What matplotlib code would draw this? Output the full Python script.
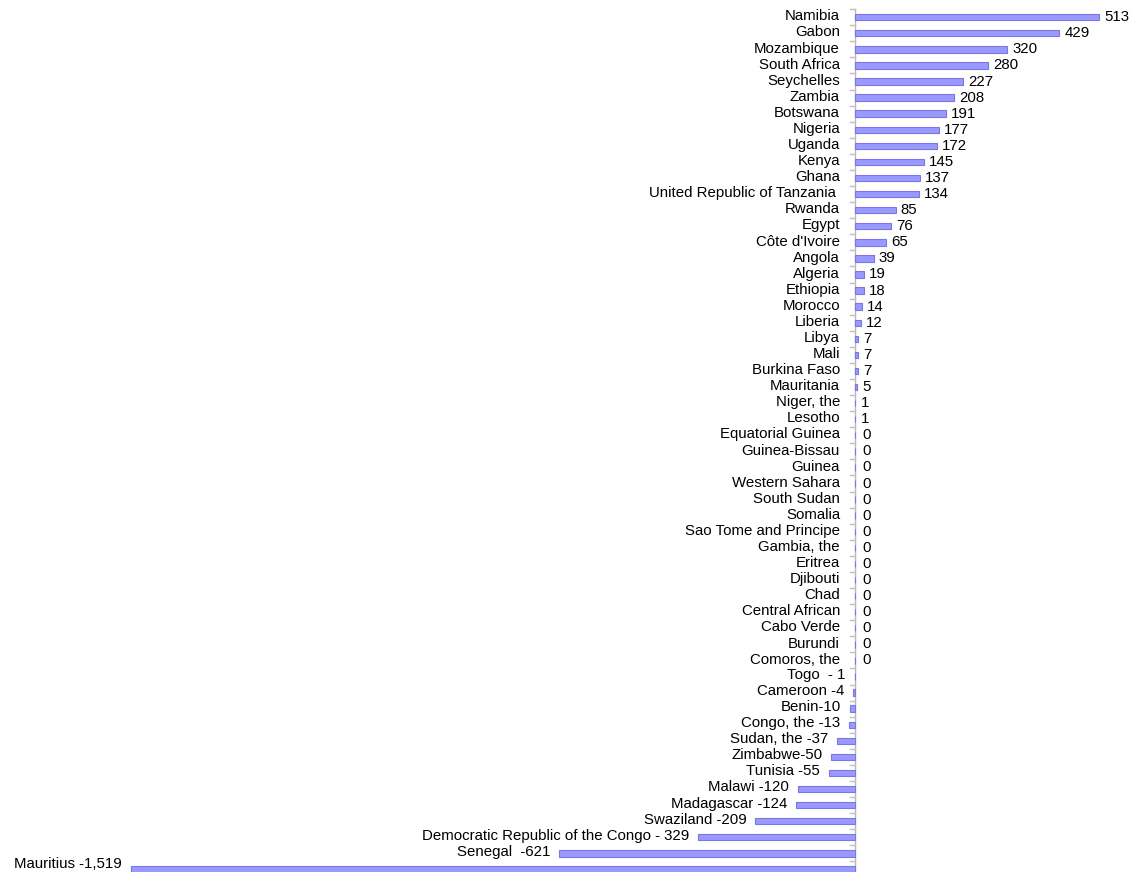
import matplotlib
matplotlib.use("Agg")
import matplotlib.pyplot as plt

plt.rcParams['font.family'] = ['Liberation Sans', 'DejaVu Sans']

countries = ["Namibia", "Gabon", "Mozambique", "South Africa", "Seychelles", "Zambia",
             "Botswana", "Nigeria", "Uganda", "Kenya", "Ghana", "United Republic of Tanzania ",
             "Rwanda", "Egypt", "Côte d'Ivoire", "Angola", "Algeria", "Ethiopia", "Morocco",
             "Liberia", "Libya", "Mali", "Burkina Faso", "Mauritania", "Niger, the", "Lesotho",
             "Equatorial Guinea", "Guinea-Bissau", "Guinea", "Western Sahara", "South Sudan",
             "Somalia", "Sao Tome and Principe", "Gambia, the", "Eritrea", "Djibouti", "Chad",
             "Central African", "Cabo Verde", "Burundi", "Comoros, the",
             "Togo", "Cameroon", "Benin", "Congo, the", "Sudan, the", "Zimbabwe", "Tunisia",
             "Malawi", "Madagascar", "Swaziland", "Democratic Republic of the Congo",
             "Senegal", "Mauritius"]
values = [513, 429, 320, 280, 227, 208, 191, 177, 172, 145, 137, 134, 85, 76, 65, 39, 19, 18,
          14, 12, 7, 7, 7, 5, 1, 1, 0, 0, 0, 0, 0, 0, 0, 0, 0, 0, 0, 0, 0, 0, 0,
          -1, -4, -10, -13, -37, -50, -55, -120, -124, -209, -329, -621, -1519]
# data-label text shown for the negative bars (as printed in the source)
neg_labels = ["Togo  - 1", "Cameroon -4", "Benin-10", "Congo, the -13", "Sudan, the -37",
              "Zimbabwe-50", "Tunisia -55", "Malawi -120", "Madagascar -124", "Swaziland -209",
              "Democratic Republic of the Congo - 329", "Senegal  -621", "Mauritius -1,519"]

W, H = 1134, 872
fig = plt.figure(figsize=(W / 100, H / 100), dpi=100)
ax = fig.add_axes([0, 0, 1, 1])

px_per_unit = 0.4765
x0_px = 855
row0_px = 17.2
row_px = 16.08
y_bottom = (H - row0_px) / row_px
ax.set_xlim(-x0_px / px_per_unit, (W - x0_px) / px_per_unit)
ax.set_ylim(y_bottom, -row0_px / row_px)
ax.axis('off')

n = len(countries)
ypos = list(range(n))
ax.barh(ypos, values, height=0.4, color='#9999ff', edgecolor='#7878e0', linewidth=0.8, zorder=3)

# category axis line and ticks
ax.plot([0, 0], [-0.5, n - 0.5], color='#b8b8b8', lw=1.0, zorder=2)
tick_len = 5 / px_per_unit
for k in range(n + 1):
    ax.plot([-tick_len, 0], [k - 0.5, k - 0.5], color='#c0c0c0', lw=1.0, zorder=2)

fs = 10.8
name_off = 15 / px_per_unit
val_off = 5 / px_per_unit
neg_i = 0
for i, (c, v) in enumerate(zip(countries, values)):
    if v >= 0:
        ax.text(-name_off, i - 0.05, c, ha='right', va='center', fontsize=fs, color='black')
        ax.text(v + val_off + (2 / px_per_unit if v == 0 else 0), i, f"{v:,}",
                ha='left', va='center', fontsize=fs, color='black')
    else:
        ty = min(i - 0.1, y_bottom - 0.5)
        ax.text(v - 9 / px_per_unit, ty, neg_labels[neg_i], ha='right', va='center',
                fontsize=fs, color='black')
        neg_i += 1

fig.savefig("out.png", dpi=100)
